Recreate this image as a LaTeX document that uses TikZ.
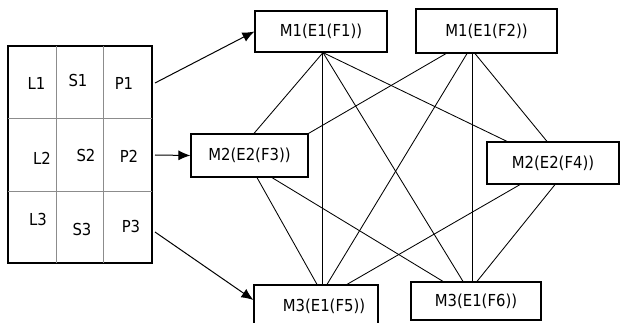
\documentclass[tikz,border=0pt]{standalone}
\usepackage{fontspec}
\setmainfont{DejaVu Sans Condensed}
\usetikzlibrary{arrows.meta}
\begin{document}
\begin{tikzpicture}[x=1pt,y=-1pt,
  box/.style={draw,line width=1.2pt,rectangle,inner sep=0pt,
              font=\fontsize{16.5}{18}\selectfont},
  link/.style={line width=0.85pt},
  feed/.style={line width=1pt,-{Latex[length=12pt,width=10pt]}},
  cell/.style={inner sep=0pt,font=\fontsize{16.5}{18}\selectfont},
  grid/.style={draw=black!45,line width=0.8pt}]
\useasboundingbox (0,0) rectangle (621,323);

% table of L/S/P entries
\node[draw,line width=1.2pt,inner sep=0pt,minimum width=144pt,minimum height=217pt] (tbl) at (80,154.5) {};
\draw[grid] (56,46) -- (56,263);
\draw[grid] (103,46) -- (103,263);
\draw[grid] (8,118) -- (152,118);
\draw[grid] (8,191) -- (152,191);

\node[cell] (l1) at (36.5,83) {L1};
\node[cell] (s1) at (78,80) {S1};
\node[cell] (p1) at (124,83) {P1};
\node[cell] (l2) at (42,158) {L2};
\node[cell] (s2) at (86,155) {S2};
\node[cell] (p2) at (129,156) {P2};
\node[cell] (l3) at (38,219) {L3};
\node[cell] (s3) at (82,229) {S3};
\node[cell] (p3) at (131,226) {P3};

\coordinate (p1o) at (155,83);
\coordinate (p2o) at (155,155);
\coordinate (p3o) at (155,232);

% module boxes
\node[box,minimum width=132pt,minimum height=41pt] (m11) at (321,31.5) {M1(E1(F1))};
\node[box,minimum width=141pt,minimum height=44pt] (m12) at (486.5,31) {M1(E1(F2))};
\node[box,minimum width=117pt,minimum height=43pt] (m23) at (249.5,155.5) {M2(E2(F3))};
\node[box,minimum width=132pt,minimum height=42pt] (m24) at (553,163) {M2(E2(F4))};
\node[box,minimum width=124pt,minimum height=42pt] (m35) at (316,306) {\hspace*{16pt}M3(E1(F5))};
\node[box,minimum width=130pt,minimum height=38pt] (m36) at (476,301) {M3(E1(F6))};

% inputs
\draw[feed] (p1o) -- (m11.west);
\draw[feed] (p2o) -- (m23.west);
\draw[feed] (p3o) -- ([yshift=6pt]m35.west);

% links from M1(E1(F1))
\draw[link] ([xshift=2pt]m11.south) -- ([xshift=4.5pt]m23.north);
\draw[link] ([xshift=1pt]m11.south) -- ([xshift=6pt]m35.north);
\draw[link] ([xshift=2pt]m11.south) -- ([xshift=-13pt]m36.north);
\draw[link] ([xshift=2pt]m11.south) -- ([xshift=-46pt]m24.north);

% links from M1(E1(F2))
\draw[link] ([xshift=-40.5pt]m12.south) -- (m23.north east);
\draw[link] ([xshift=-19.5pt]m12.south) -- ([xshift=11pt]m35.north);
\draw[link] ([xshift=-14.5pt]m12.south) -- ([xshift=-4pt]m36.north);
\draw[link] ([xshift=-11.5pt]m12.south) -- ([xshift=-6pt]m24.north);

% links from M2(E2(F3))
\draw[link] ([xshift=7.5pt]m23.south) -- ([xshift=1pt]m35.north);
\draw[link] ([xshift=22.5pt]m23.south) -- ([xshift=-33pt]m36.north);

% links from M2(E2(F4))
\draw[link] ([xshift=-33pt]m24.south) -- ([xshift=31pt]m35.north);
\draw[link] ([xshift=2pt]m24.south) -- ([xshift=1pt]m36.north);
\end{tikzpicture}
\end{document}
